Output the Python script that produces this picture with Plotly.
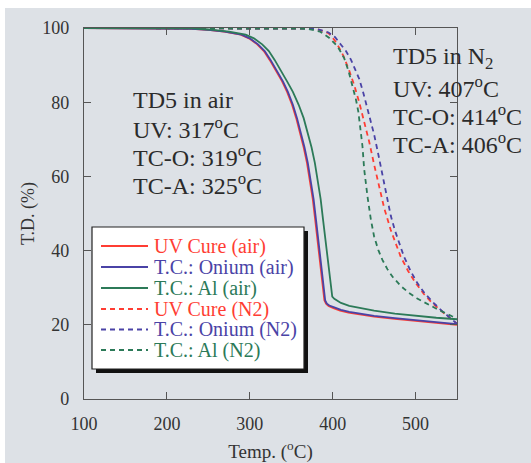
import plotly.graph_objects as go

# ---------------- data ----------------
uv_air_T = [100, 200, 230, 250, 269, 289, 299, 309, 317, 324, 332, 339, 345, 351, 356, 361, 365, 369, 373, 376, 379, 383, 387, 390, 392, 395, 401, 409, 419, 431, 450, 475, 500, 525, 550]
uv_air_D = [100, 100, 99.8, 99.5, 99.0, 98.2, 97.2, 95.6, 93.8, 91.4, 88.5, 85.6, 82.8, 79.3, 75.7, 71.45, 67.85, 63.65, 58.65, 53.85, 48.15, 40.15, 31.95, 26.6, 25.7, 25.1, 24.5, 23.8, 23.3, 22.8, 22.2, 21.6, 21.1, 20.6, 20.0]

on_air_T = [100, 200, 230, 250, 270, 290, 300, 310, 318, 325, 333, 340, 346, 352, 357, 362, 366, 370, 374, 377, 380, 384, 388, 391, 393, 396, 402, 410, 420, 432, 450, 475, 500, 525, 550]
on_air_D = [100, 100, 99.8, 99.5, 99.0, 98.2, 97.2, 95.6, 93.8, 91.4, 88.5, 85.6, 82.8, 79.3, 75.7, 71.45, 67.85, 63.65, 58.65, 53.85, 48.15, 40.15, 31.95, 26.55, 25.7, 25.2, 24.7, 24.0, 23.5, 23.0, 22.4, 21.8, 21.3, 20.8, 20.2]

al_air_T = [100, 200, 230, 250, 275, 295, 305, 315, 323, 330, 338, 345, 352, 359, 365, 370.5, 374.5, 378.5, 382.5, 385.5, 388.5, 392.5, 396.5, 399.5, 402, 405, 410, 420, 432, 450, 475, 500, 525, 550]
al_air_D = [100, 100, 99.9, 99.6, 99.0, 98.2, 97.2, 95.6, 93.8, 91.4, 88.5, 85.6, 82.8, 79.3, 75.7, 71.45, 67.85, 63.65, 58.65, 53.85, 48.15, 40.15, 31.95, 27.6, 27.0, 26.5, 25.9, 25.1, 24.5, 23.8, 23.0, 22.4, 21.9, 21.5]

uv_n2_T = [100, 300, 380, 395, 402, 407, 413, 420, 426, 432, 438, 444, 450, 456, 462, 470, 476, 482, 491, 500, 510, 520, 535, 550]
uv_n2_D = [100, 100, 99.8, 98.6, 96.8, 95.0, 92.5, 88.5, 84.6, 80.0, 75.0, 69.4, 63.2, 57.5, 51.6, 45.6, 41.8, 38.4, 34.5, 31.3, 28.3, 25.9, 23.0, 20.3]

on_n2_T = [100, 300, 380, 395, 403, 410, 416, 422, 427, 432, 437, 442, 446, 450, 455, 460, 465, 470, 475, 480, 486, 494, 502, 511, 520, 533, 550]
on_n2_D = [100, 100, 99.8, 98.8, 97.5, 95.5, 93.8, 91.5, 89.0, 86.3, 82.5, 78.4, 74.8, 71.3, 66.0, 60.8, 55.0, 49.5, 45.5, 42.3, 38.4, 34.5, 31.3, 28.5, 26.3, 23.5, 20.3]

al_n2_T = [100, 300, 370, 385, 396, 406, 414, 419, 424, 428, 431, 434, 436, 438, 440, 442, 446, 450, 455, 460, 466, 472, 482, 492, 502, 512, 528, 544, 550]
al_n2_D = [100, 100, 99.8, 99.0, 97.3, 95.0, 91.8, 88.5, 84.6, 80.8, 77.4, 72.5, 68.0, 62.0, 57.8, 54.6, 48.5, 43.8, 40.2, 37.5, 35.0, 33.0, 30.5, 28.6, 27.1, 25.9, 24.0, 22.3, 21.8]

series_names = ["UV Cure (air)", "T.C.: Onium (air)", "T.C.: Al (air)",
                "UV Cure (N2)", "T.C.: Onium (N2)", "T.C.: Al (N2)"]
series_T = [uv_air_T, on_air_T, al_air_T, uv_n2_T, on_n2_T, al_n2_T]
series_D = [uv_air_D, on_air_D, al_air_D, uv_n2_D, on_n2_D, al_n2_D]

x_ticks = [100, 200, 300, 400, 500]
y_ticks = [0, 20, 40, 60, 80, 100]

air_lines = ["TD5 in air", "UV: 317<sup>o</sup>C", "TC-O: 319<sup>o</sup>C", "TC-A: 325<sup>o</sup>C"]
n2_lines = ["TD5 in N<sub>2</sub>", "UV: 407<sup>o</sup>C", "TC-O: 414<sup>o</sup>C", "TC-A: 406<sup>o</sup>C"]

# ---------------- styles ----------------
RED = "#ff3d33"
BLUE = "#4a43a6"
GREEN = "#2c7a58"
colors = [RED, BLUE, GREEN, RED, BLUE, GREEN]
dashes = ["solid", "solid", "solid", "5px,4px", "5px,4px", "5px,4px"]
FONT = "Liberation Serif"
BG = "#dde1e6"
TXT = "#2b2b2b"

W, H = 531, 463
PL, PR, PT, PB = 84, 457, 28, 399
PW, PH = PR - PL, PB - PT


def px(x):
    return (x - PL) / PW


def py(y):
    return (PB - y) / PH


fig = go.Figure()
order = [3, 4, 5, 0, 1, 2]
for i in order:
    fig.add_trace(go.Scatter(
        x=series_T[i], y=series_D[i], mode="lines", name=series_names[i],
        line=dict(color=colors[i], width=1.8, dash=dashes[i]),
        showlegend=False, hoverinfo="skip"))

shapes = []
# white strips at top and left edges of the image
shapes.append(dict(type="rect", xref="paper", yref="paper", x0=px(0), x1=px(W), y0=py(0), y1=py(8),
                   fillcolor="white", line=dict(width=0), layer="below"))
shapes.append(dict(type="rect", xref="paper", yref="paper", x0=px(0), x1=px(5), y0=py(H), y1=py(0),
                   fillcolor="white", line=dict(width=0), layer="below"))

# custom legend box with shadow
LX0, LX1, LY0, LY1 = 92, 304, 227, 369
shapes.append(dict(type="rect", xref="paper", yref="paper", x0=px(LX0 + 4), x1=px(LX1 + 4),
                   y0=py(LY1 + 4), y1=py(LY0 + 4), fillcolor="#111111", line=dict(width=0), layer="above"))
shapes.append(dict(type="rect", xref="paper", yref="paper", x0=px(LX0), x1=px(LX1),
                   y0=py(LY1), y1=py(LY0), fillcolor="white", line=dict(color="#222222", width=1.2),
                   layer="above"))

annotations = []
entry_y = [246, 267, 288, 309, 329.5, 350]
for k, i in enumerate(range(6)):
    yy = py(entry_y[k])
    shapes.append(dict(type="line", xref="paper", yref="paper", x0=px(101), x1=px(148), y0=yy, y1=yy,
                       line=dict(color=colors[i], width=1.8, dash=dashes[i]), layer="above"))
    annotations.append(dict(xref="paper", yref="paper", x=px(153), y=yy, xanchor="left", yanchor="middle",
                            text=series_names[i], showarrow=False, borderpad=0,
                            font=dict(family=FONT, size=20, color=colors[i])))

air_y = [100, 128, 156, 184]
for t, yv in zip(air_lines, air_y):
    annotations.append(dict(xref="paper", yref="paper", x=px(131), y=py(yv), xanchor="left", yanchor="middle",
                            text=t, showarrow=False, font=dict(family=FONT, size=24, color=TXT)))
n2_y = [58, 87, 115, 143]
for t, yv in zip(n2_lines, n2_y):
    annotations.append(dict(xref="paper", yref="paper", x=px(391), y=py(yv), xanchor="left", yanchor="middle",
                            text=t, showarrow=False, font=dict(family=FONT, size=24, color=TXT)))

axis_common = dict(showline=True, linecolor="#555555", linewidth=1.2, mirror="ticks",
                   ticks="inside", ticklen=7, tickcolor="#555555", tickwidth=1.2,
                   showgrid=False, zeroline=False, automargin=False,
                   tickfont=dict(family=FONT, size=18, color="#333333"))

fig.update_layout(
    width=W, height=H,
    margin=dict(l=PL, r=W - PR, t=PT, b=H - PB, pad=0, autoexpand=False),
    paper_bgcolor=BG, plot_bgcolor=BG,
    shapes=shapes, annotations=annotations,
    showlegend=False,
    xaxis=dict(range=[100, 550], tickvals=x_ticks, ticktext=[str(v) for v in x_ticks],
               ticklabelstandoff=8,
               title=dict(text="Temp. (<sup>o</sup>C)", standoff=12,
                          font=dict(family=FONT, size=19, color="#333333")),
               **axis_common),
    yaxis=dict(range=[0, 100], tickvals=y_ticks, ticktext=[str(v) for v in y_ticks],
               ticklabelstandoff=10,
               title=dict(text="T.D. (%)", standoff=2,
                          font=dict(family=FONT, size=18, color="#333333")),
               **axis_common),
)

fig.write_html("out.html")
